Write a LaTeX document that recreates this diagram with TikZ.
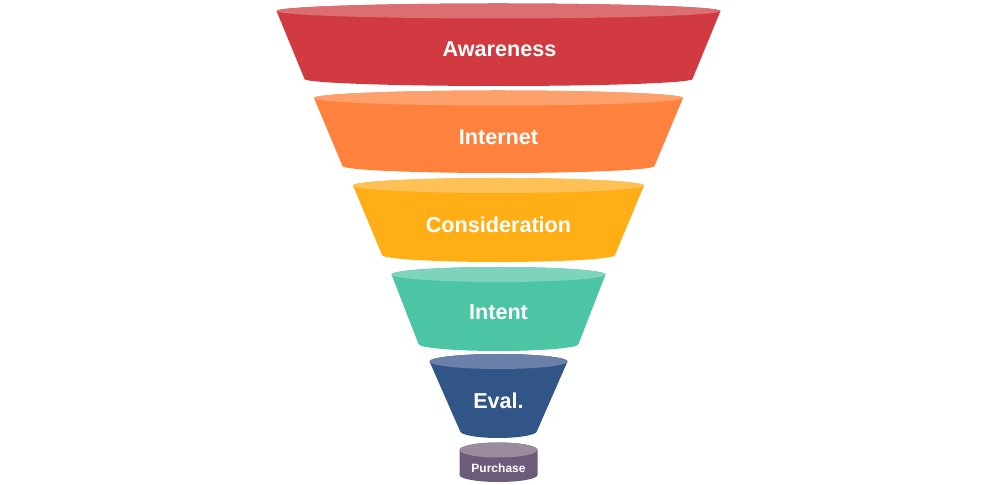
\documentclass[tikz,border=0pt]{standalone}
\usepackage{fontspec}
\setmainfont{Liberation Sans}
\definecolor{awbody}{HTML}{D13A40}
\definecolor{awtop}{HTML}{DC6E72}
\definecolor{inbody}{HTML}{FE823E}
\definecolor{intop}{HTML}{FDA06C}
\definecolor{cobody}{HTML}{FFAF15}
\definecolor{cotop}{HTML}{FDC155}
\definecolor{itbody}{HTML}{4CC5A5}
\definecolor{ittop}{HTML}{7ED3BC}
\definecolor{evbody}{HTML}{325588}
\definecolor{evtop}{HTML}{6A80A8}
\definecolor{pubody}{HTML}{6D5B7C}
\definecolor{putop}{HTML}{9A8B9E}
\tikzset{
  lbl/.style={text=white, font=\bfseries\fontsize{21.6}{24}\selectfont, inner sep=0pt},
  smalllbl/.style={text=white, font=\bfseries\fontsize{12}{14}\selectfont, inner sep=0pt},
}
% #1 top y (screen), #2 top rx, #3 bottom y (screen), #4 bottom rx, #5 body colour, #6 top colour
\newcommand{\funnellayer}[6]{%
  \fill[#5] ({498.5-#2},{484-#1}) -- ({498.5-#4},{484-#3})
    arc[start angle=180, end angle=360, x radius=#4, y radius=7]
    -- ({498.5+#2},{484-#1})
    arc[start angle=0, end angle=180, x radius=#2, y radius=7.5] -- cycle;
  \fill[#6] (498.5,{484-#1}) ellipse[x radius=#2, y radius=7.5];
}
\begin{document}
\begin{tikzpicture}[x=1pt,y=1pt]
\useasboundingbox[fill=white] (0,0) rectangle (1000,484);
\funnellayer{11}{222}{79}{194}{awbody}{awtop}
\funnellayer{98}{184.5}{166}{156}{inbody}{intop}
\funnellayer{185.5}{145.5}{255}{116.5}{cobody}{cotop}
\funnellayer{274.5}{107}{344}{80}{itbody}{ittop}
\funnellayer{361.5}{69}{431}{38.5}{evbody}{evtop}
% purchase cylinder
\fill[pubody] (459.5,{484-450}) -- (459.5,{484-475})
  arc[start angle=180, end angle=360, x radius=39, y radius=7]
  -- (537.5,{484-450})
  arc[start angle=0, end angle=180, x radius=39, y radius=7.5] -- cycle;
\fill[putop] (498.5,{484-450}) ellipse[x radius=39, y radius=7.5];
\node[lbl] (aw) at (499.5,{484-49}) {Awareness};
\node[lbl] (in) at (498.5,{484-137}) {Internet};
\node[lbl] (co) at (498.5,{484-225}) {Consideration};
\node[lbl] (it) at (498.5,{484-312}) {Intent};
\node[lbl] (ev) at (498.5,{484-401}) {Eval.};
\node[smalllbl] (pu) at (498.5,{484-468}) {Purchase};
\end{tikzpicture}
\end{document}
